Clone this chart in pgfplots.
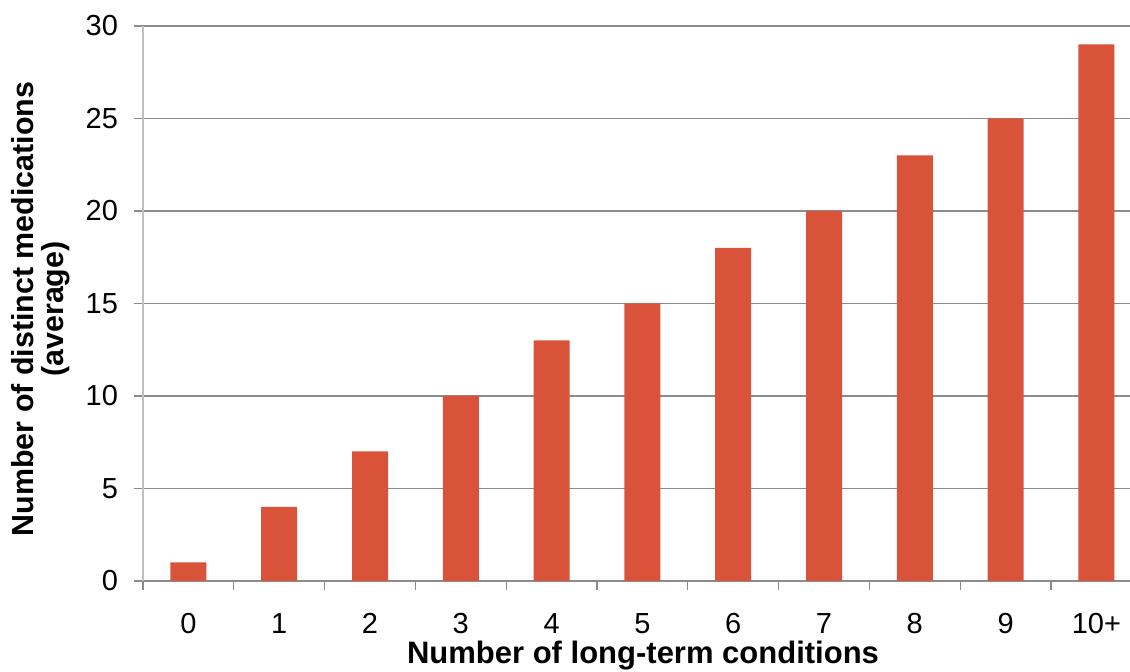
\documentclass[border=0pt]{standalone}
\usepackage{pgfplots}
\pgfplotsset{compat=1.18}
\usepackage{fontspec}
\setmainfont{Liberation Sans}
\definecolor{barred}{RGB}{217,83,59}
\definecolor{gridgray}{RGB}{140,140,140}
\definecolor{ylinegray}{RGB}{192,192,192}
\begin{document}
\begin{tikzpicture}
\begin{axis}[
  width=493.5pt, height=277.5pt,
  scale only axis,
  axis lines*=left,
  x axis line style={draw=gridgray, line width=0.8pt},
  y axis line style={draw=ylinegray, line width=0.8pt},
  xmin=-0.5, xmax=10.37,
  ymin=0, ymax=30,
  ytick={0,5,...,30},
  xtick={0,...,10},
  xticklabels={0,1,2,3,4,5,6,7,8,9,10+},
  minor xtick={-0.5,0.5,...,9.5},
  tick align=outside,
  major tick length=4.5pt,
  minor tick length=4.5pt,
  x tick style={draw=none},
  minor x tick style={draw=gridgray, line width=0.6pt},
  y tick style={draw=gridgray, line width=0.8pt},
  ymajorgrids,
  grid style={draw=gridgray, line width=0.8pt},
  /pgf/number format/assume math mode=true,
  tick label style={font=\fontsize{14.5}{17}\selectfont},
  xticklabel style={anchor=base, yshift=-22pt, inner sep=0pt},
  yticklabel style={xshift=-4.5pt},
  ylabel={Number of distinct medications\\(average)},
  ylabel style={at={(axis description cs:-0.104,0.49)}, anchor=center, align=center,
    font=\fontsize{15.2}{15}\selectfont\bfseries},
  xlabel={Number of long-term conditions},
  xlabel style={at={(axis description cs:0.5066,-0.1495)}, anchor=base, inner sep=0pt,
    font=\fontsize{15.5}{18}\selectfont\bfseries},
  clip=false,
]
\addplot[ybar, bar width=18pt, fill=barred, draw=none] coordinates {
  (0,1) (1,4) (2,7) (3,10) (4,13) (5,15) (6,18) (7,20) (8,23) (9,25) (10,29)
};
\coordinate (ll) at (rel axis cs:0,0);
\coordinate (ur) at (rel axis cs:1,1);
\end{axis}
\pgfresetboundingbox
\path[use as bounding box] ([xshift=-71.5pt,yshift=-45.5pt]ll) rectangle ([yshift=13pt]ur);
\end{tikzpicture}
\end{document}
